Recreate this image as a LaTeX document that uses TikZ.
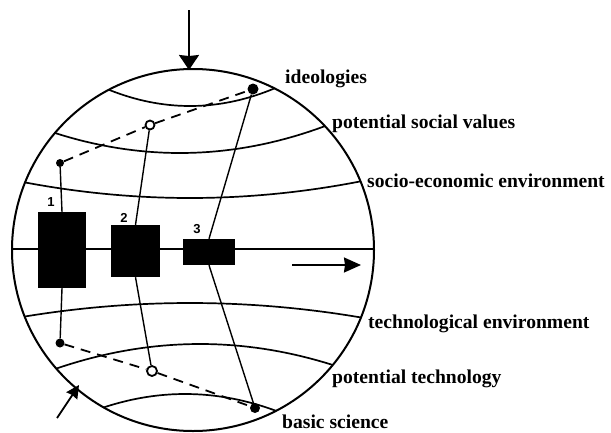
\documentclass[tikz,border=0pt]{standalone}
\usepackage{fontspec}
\setmainfont{Liberation Serif}
\setsansfont{Liberation Sans}
\usetikzlibrary{arrows.meta,positioning}

\begin{document}
\begin{tikzpicture}[x=1pt,y=-1pt,
  every node/.style={font=\bfseries\fontsize{19.6}{22}\selectfont},
  rim/.style={line width=2pt},
  lat/.style={line width=1.7pt},
  dot/.style={circle, fill, inner sep=0pt},
  odot/.style={circle, draw, line width=1.8pt, fill=white, inner sep=0pt},
  box/.style={fill=black, inner sep=0pt},
  num/.style={font=\sffamily\bfseries\fontsize{13}{15}\selectfont, inner sep=0pt},
  link/.style={line width=1.4pt},
  dlink/.style={line width=1.8pt, dash pattern=on 10pt off 7pt},
  arr/.style={-{Stealth[length=15pt,width=20pt,inset=1pt]}, line width=1.8pt},
  lab/.style={anchor=base west, inner sep=0pt},
]
\useasboundingbox (0,0) rectangle (611,432);

% the sphere and its layers
\begin{scope}
  \clip (193,250) circle[radius=181pt];
  \draw[lat] plot[domain=100:290, samples=40] (\x, {106-17*((\x-190)/83)^2});
  \draw[lat] plot[domain=40:340, samples=40] (\x, {153-12.8*((\x-180)/100)^2});
  \draw[lat] plot[domain=10:376, samples=40] (\x, {198-5.72*((\x-190)/100)^2});
  \draw[lat] (10,249) -- (376,249);
  \draw[lat] plot[domain=10:376, samples=40] (\x, {303+4.95*((\x-190)/100)^2});
  \draw[lat] plot[domain=40:340, samples=40] (\x, {344+11.9*((\x-200)/100)^2});
  \draw[lat] plot[domain=90:290, samples=40] (\x, {394+20.3*((\x-185)/100)^2});
\end{scope}
\draw[rim] (193,250) circle[radius=181pt];
\coordinate (top) at (189,70);
\coordinate (topin) at (189,10);

% organisations
\node[box, minimum width=48pt, minimum height=76pt] (box1) at (62,250) {};
\node[box, minimum width=49pt, minimum height=52pt] (box2) at (135.5,251) {};
\node[box, minimum width=52pt, minimum height=26pt] (box3) at (209,252) {};
\node[num] (n1) at (51,202) {1};
\node[num] (n2) at (124,218) {2};
\node[num] (n3) at (197,229) {3};

% positions on the layers
\node[dot, minimum size=11pt] (ideo) at (253,89) {};
\node[odot, minimum size=9pt] (psv) at (150,125) {};
\node[dot, minimum size=8pt] (soc) at (60,163) {};
\node[dot, minimum size=9pt] (tech) at (60,343) {};
\node[odot, minimum size=10pt] (ptech) at (152,371) {};
\node[dot, minimum size=10pt] (basic) at (255,408) {};

\draw[link] (soc) -- (box1.north);
\draw[link] (box1.south) -- (tech);
\draw[link] (psv) -- (box2.north);
\draw[link] (box2.south) -- (ptech);
\draw[link] (ideo) -- (box3.north);
\draw[link] (box3.south) -- (basic);
\draw[dlink] (soc) -- (psv) -- (ideo);
\draw[dlink] (tech) -- (ptech) -- (basic);

% arrows
\draw[arr] (topin) -- (top);
\coordinate (flow0) at (292,265);
\coordinate (flow1) at (361,265);
\draw[arr, -{Stealth[length=17pt,width=15pt,inset=1pt]}] (flow0) -- (flow1);
\coordinate (low0) at (57,418);
\coordinate (low1) at (79,385);
\draw[arr, -{Stealth[length=13pt,width=13pt,inset=1pt]}] (low0) -- (low1);

% layer names
\node[lab] (l1) at (285,83) {ideologies};
\node[lab] (l2) at (332,128) {potential social values};
\node[lab] (l3) at (367,187) {socio-economic environment};
\node[lab] (l4) at (368,328) {technological environment};
\node[lab] (l5) at (332,383) {potential technology};
\node[lab] (l6) at (282,428) {basic science};
\end{tikzpicture}
\end{document}
